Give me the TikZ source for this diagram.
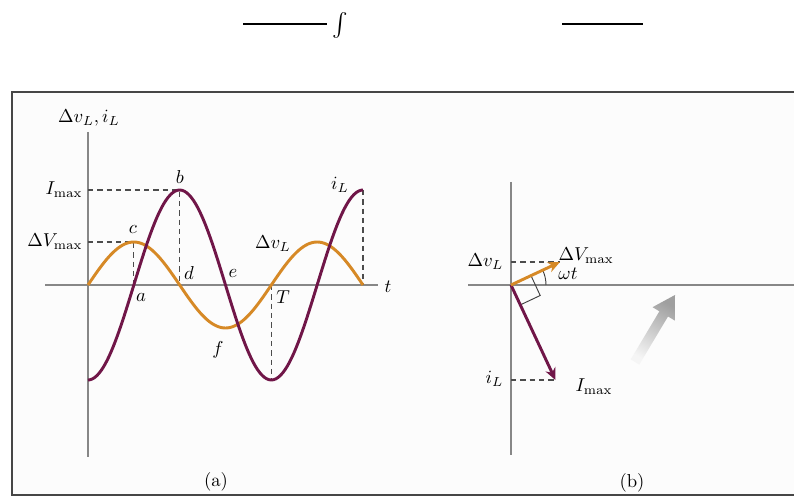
\documentclass[tikz,border=0pt]{standalone}
\usetikzlibrary{arrows.meta}
\definecolor{voltorange}{RGB}{214,137,38}
\definecolor{curpurple}{RGB}{112,22,72}
\definecolor{axisgray}{RGB}{135,135,135}
\definecolor{framegray}{RGB}{70,70,70}
\begin{document}
\begin{tikzpicture}[
  x=0.75pt, y=0.75pt,
  axis/.style={draw=axisgray, line width=1.1pt},
  guide/.style={draw=black!70, line width=1pt, dash pattern=on 4pt off 3pt},
  voltcurve/.style={draw=voltorange, line width=2.2pt},
  curcurve/.style={draw=curpurple, line width=2.2pt},
  phasor/.style={line width=2.2pt, -{Stealth[length=9pt,width=8pt]}},
  lbl/.style={inner sep=0.7pt, scale=1.4}
]
\useasboundingbox (0,0) rectangle (794,497);
\fill[white] (0,0) rectangle (794,497);

\draw[line width=1.5pt] (243,473) -- (327,473);
\node[inner sep=0pt, scale=1.75] (intsign) at (340,472) {$\int$};
\draw[line width=1.5pt] (562,473) -- (643,473);

\fill[black!1] (12,2) rectangle (794,405);
\draw[draw=framegray, line width=1.5pt] (794,405) -- (12,405) -- (12,2) -- (794,2);

\coordinate (origa) at (88,212);
\coordinate (vtop) at (88,365);
\coordinate (vbot) at (88,40);
\coordinate (taxl) at (45,212);
\coordinate (taxr) at (378,212);
\draw[axis] (vtop) -- (vbot);
\draw[axis] (taxl) -- (taxr);

\coordinate (imaxlev) at (88,307);
\coordinate (vmaxlev) at (88,255);
\coordinate (ptb) at (179.7,307);
\coordinate (ptd) at (179.7,212);
\coordinate (ptc) at (133.8,255);
\coordinate (pta) at (133.8,212);
\coordinate (ptT) at (271.5,212);
\coordinate (ptmin) at (271.5,117);
\coordinate (ptend) at (363,307);
\coordinate (ptendax) at (363,212);
\draw[guide] (imaxlev) -- (ptb) -- (ptd);
\draw[guide] (vmaxlev) -- (ptc) -- (pta);
\draw[guide] (ptT) -- (ptmin);
\draw[guide] (ptend) -- (ptendax);

\draw[voltcurve] plot[domain=0:540, samples=121, smooth] ({88+\x/540*275},{212+43*sin(\x)});
\draw[curcurve] plot[domain=0:540, samples=121, smooth] ({88+\x/540*275},{212-95*cos(\x)});

\node[lbl] (ylabel) at (89,379) {$\Delta v_L, i_L$};
\node[lbl, anchor=east] (imaxlbl) at (84,307) {$I_{\max}$};
\node[lbl, anchor=east] (vmaxlbl) at (84,255) {$\Delta V_{\max}$};
\node[lbl] (blbl) at (180,320) {$b$};
\node[lbl] (clbl) at (133,268) {$c$};
\node[lbl] (albl) at (141,200) {$a$};
\node[lbl] (dlbl) at (189,224) {$d$};
\node[lbl] (elbl) at (233,224) {$e$};
\node[lbl] (flbl) at (218,147) {$f$};
\node[lbl] (Tlbl) at (283,200) {$T$};
\node[lbl] (illbl) at (340,312) {$i_L$};
\node[lbl] (dvlbl) at (273,253) {$\Delta v_L$};
\node[lbl] (tlbl) at (388,210) {$t$};
\node[lbl] (capa) at (216,15) {(a)};

\coordinate (origb) at (511,212);
\coordinate (btop) at (511,315);
\coordinate (bbot) at (511,42);
\coordinate (bleft) at (468,212);
\coordinate (bright) at (794,212);
\draw[axis] (btop) -- (bbot);
\draw[axis] (bleft) -- (bright);

\coordinate (vtip) at (559.9,234.9);
\coordinate (itip) at (555.5,116.9);
\coordinate (vproj) at (511,234.9);
\coordinate (iproj) at (511,116.9);
\draw[guide] (vproj) -- (vtip);
\draw[guide] (iproj) -- (itip);

\draw[draw=black!75, line width=0.7pt] (531,221.4) -- (540.2,201.5) -- (520.3,192.1);
\draw[draw=black!75, line width=0.7pt] (546,212) arc[start angle=0, end angle=25.1, radius=35];

\draw[phasor, curpurple] (origb) -- (itip);
\draw[phasor, voltorange] (origb) -- (vtip);

\node[lbl, anchor=east] (dvblbl) at (505,235) {$\Delta v_L$};
\node[lbl, anchor=west] (vmaxblbl) at (557,241) {$\Delta V_{\max}$};
\node[lbl] (wtlbl) at (568,223) {$\omega t$};
\node[lbl, anchor=east] (ilblb) at (505,118) {$i_L$};
\node[lbl, anchor=west] (imaxblbl) at (574,110) {$I_{\max}$};
\node[lbl] (capb) at (632,14) {(b)};

\shade[top color=gray!75, bottom color=gray!8, shading angle=-31]
  (630.7,137.6) -- (659.4,185.7) -- (652.5,189.8) -- (675,202)
  -- (674.9,176.4) -- (668.0,180.5) -- (639.3,132.4) -- cycle;
\end{tikzpicture}
\end{document}
